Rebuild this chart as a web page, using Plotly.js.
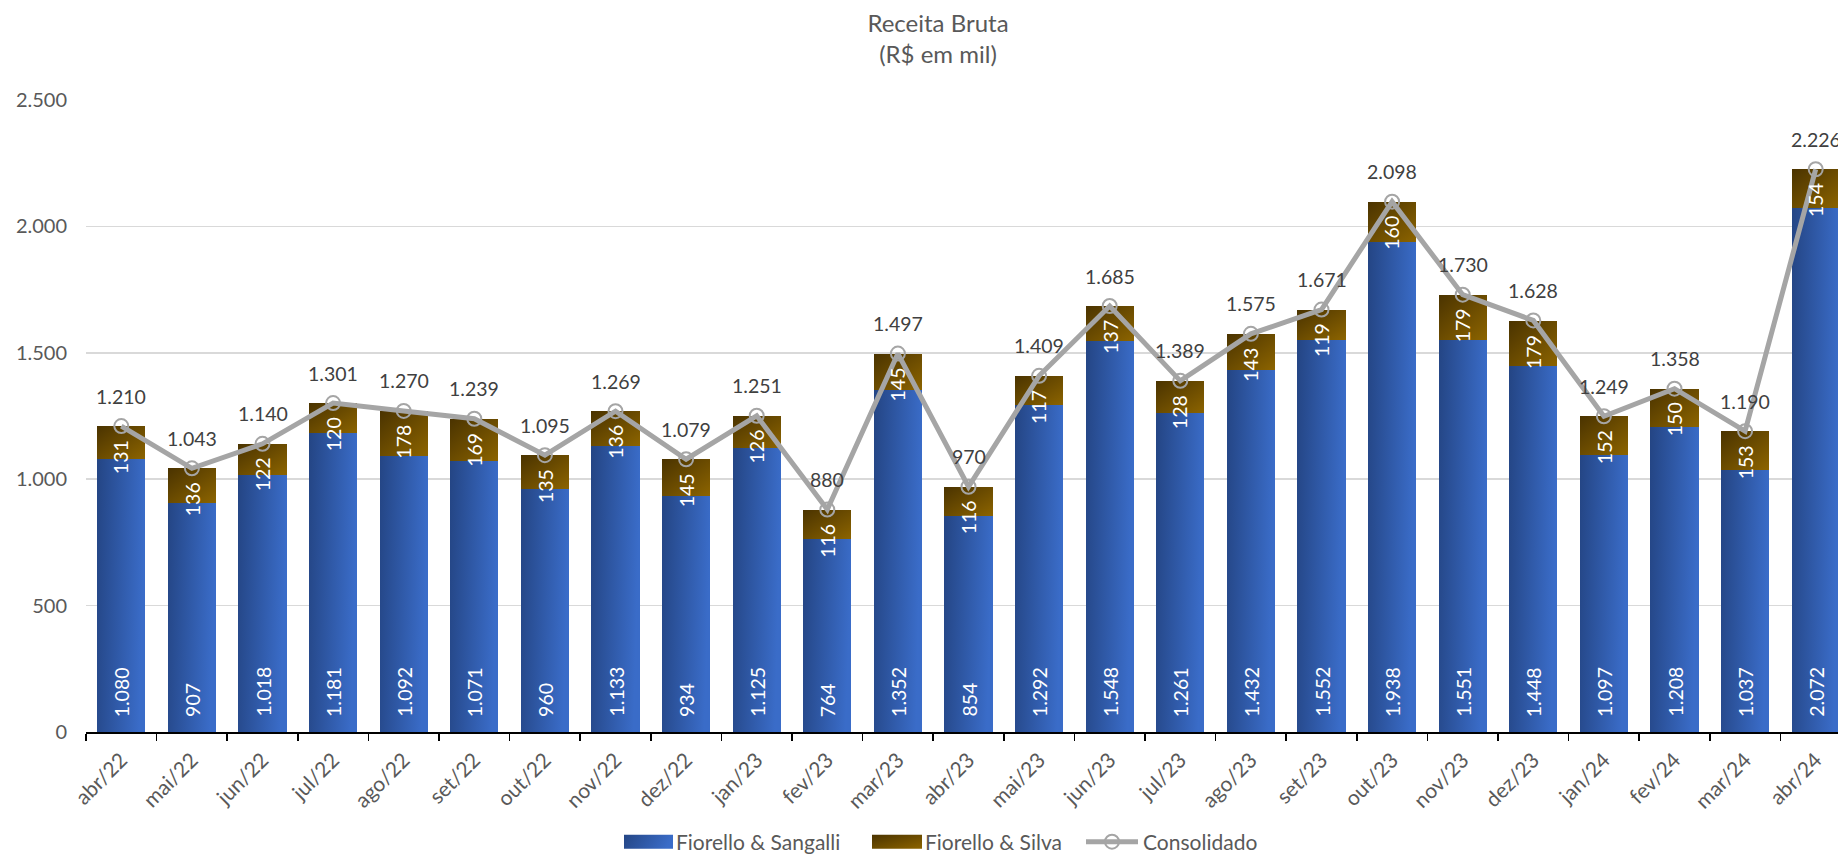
<!DOCTYPE html>
<html>
<head>
<meta charset="utf-8">
<script src="https://cdn.plot.ly/plotly-3.0.1.min.js"></script>
<style>
  html, body { margin: 0; padding: 0; overflow: hidden; background: #fff; }
  #chart { width: 1860px; height: 856px; }
</style>
</head>
<body>
<div id="chart"></div>
<script>
const categories = ["abr/22","mai/22","jun/22","jul/22","ago/22","set/22","out/22","nov/22","dez/22",
  "jan/23","fev/23","mar/23","abr/23","mai/23","jun/23","jul/23","ago/23","set/23","out/23","nov/23","dez/23",
  "jan/24","fev/24","mar/24","abr/24"];
const sangalli = [1080, 907, 1018, 1181, 1092, 1071, 960, 1133, 934, 1125, 764, 1352, 854, 1292, 1548, 1261, 1432, 1552, 1938, 1551, 1448, 1097, 1208, 1037, 2072];
const silva = [131, 136, 122, 120, 178, 169, 135, 136, 145, 126, 116, 145, 116, 117, 137, 128, 143, 119, 160, 179, 179, 152, 150, 153, 154];
const consolidado = [1210, 1043, 1140, 1301, 1270, 1239, 1095, 1269, 1079, 1251, 880, 1497, 970, 1409, 1685, 1389, 1575, 1671, 2098, 1730, 1628, 1249, 1358, 1190, 2226];
const yTicks = [0, 500, 1000, 1500, 2000, 2500];

function fmt(v) { return String(v).replace(/\B(?=(\d{3})+(?!\d))/g, "."); }

const FONT = "Lato, 'Open Sans', sans-serif";
const NUM = 19.5;

const traces = [
  { type: "bar", name: "Fiorello & Sangalli", x: categories, y: sangalli,
    marker: { color: "#2F5AAE" }, hoverinfo: "skip", legendwidth: 192 },
  { type: "bar", name: "Fiorello & Silva", x: categories, y: silva,
    marker: { color: "#6B4C00" }, hoverinfo: "skip", legendwidth: 161 },
  { type: "scatter", mode: "lines+markers", name: "Consolidado", x: categories, y: consolidado,
    line: { color: "#A5A5A5", width: 5 },
    marker: { symbol: "circle-open", size: 14, color: "#A5A5A5", line: { width: 2 } },
    hoverinfo: "skip", cliponaxis: false }
];

const annotations = [];
categories.forEach((c, i) => {
  annotations.push({ x: c, y: consolidado[i], text: fmt(consolidado[i]), showarrow: false,
    yshift: 30, font: { family: FONT, size: NUM, color: "#404040" } });
  annotations.push({ x: c, y: 0, text: fmt(sangalli[i]), showarrow: false, textangle: -90,
    yanchor: "bottom", yshift: 13, font: { family: FONT, size: NUM, color: "#FFFFFF" } });
  annotations.push({ x: c, y: sangalli[i] + silva[i], text: fmt(silva[i]), showarrow: false, textangle: -90,
    yanchor: "top", yshift: -12, font: { family: FONT, size: NUM, color: "#FFFFFF" } });
});

const layout = {
  width: 1860, height: 856,
  margin: { l: 86, r: 9, t: 100, b: 124 },
  paper_bgcolor: "#fff", plot_bgcolor: "#fff",
  separators: ",.",
  font: { family: FONT, size: 19, color: "#595959" },
  title: { text: "Receita Bruta<br>(R$ em mil)", x: 938 / 1860, xanchor: "center", xref: "container",
    y: 1 - 32 / 856, yanchor: "top", yref: "container",
    font: { family: FONT, size: 24, color: "#595959" } },
  barmode: "stack", bargap: 0.316,
  xaxis: { type: "category", range: [-0.5, categories.length - 0.5], autorange: false,
    showline: true, linecolor: "#000", linewidth: 1.5,
    ticks: "outside", tickson: "boundaries", ticklen: 7, tickwidth: 1.5, tickcolor: "#000",
    tickangle: -45, tickfont: { family: FONT, size: 21, color: "#595959" }, showgrid: false,
    ticklabelstandoff: 6, fixedrange: true, automargin: false },
  yaxis: { range: [0, 2500], autorange: false, tickvals: yTicks, ticktext: yTicks.map(fmt), showline: false, zeroline: false,
    gridcolor: "#D9D9D9", gridwidth: 1.5, ticks: "", ticklabelstandoff: 18,
    tickfont: { family: FONT, size: 20, color: "#595959" }, fixedrange: true, automargin: false },
  showlegend: true,
  legend: { orientation: "h", xref: "container", x: 624 / 1860, xanchor: "left",
    yref: "container", y: 1 - 842 / 856, yanchor: "middle",
    font: { family: FONT, size: 21, color: "#595959" }, itemwidth: 42, traceorder: "normal" },
  annotations: annotations
};

Plotly.newPlot("chart", traces, layout, { displayModeBar: false, responsive: false, staticPlot: true }).then(gd => {
  const NS = "http://www.w3.org/2000/svg";
  const svg = gd.querySelector(".main-svg");
  let defs = svg.querySelector("defs");
  if (!defs) { defs = document.createElementNS(NS, "defs"); svg.insertBefore(defs, svg.firstChild); }
  function grad(id, x2, y2, stops) {
    const g = document.createElementNS(NS, "linearGradient");
    g.setAttribute("id", id);
    g.setAttribute("x1", "0"); g.setAttribute("y1", "0");
    g.setAttribute("x2", x2); g.setAttribute("y2", y2);
    stops.forEach(([o, c]) => {
      const s = document.createElementNS(NS, "stop");
      s.setAttribute("offset", o); s.setAttribute("stop-color", c);
      g.appendChild(s);
    });
    defs.appendChild(g);
  }
  grad("gBlue", "1", "0.15", [["0", "#244584"], ["1", "#3A6CC8"]]);
  grad("gGold", "1", "1", [["0", "#4A3300"], ["1", "#8C6400"]]);
  const barTraces = gd.querySelectorAll(".barlayer .trace");
  const ids = ["gBlue", "gGold"];
  barTraces.forEach((t, i) => {
    t.querySelectorAll("path").forEach(p => { p.style.fill = "url(#" + ids[i] + ")"; });
  });
  const legItems = gd.querySelectorAll(".legend .traces");
  legItems.forEach((t, i) => {
    if (i < 2) {
      t.querySelectorAll(".legendpoints path").forEach(p => {
        p.setAttribute("d", "M-27,7H23V-7H-27Z");
        p.style.fill = "url(#" + ids[i] + ")";
        p.style.stroke = "none";
      });
    } else {
      const lp = t.querySelector(".legendlines path");
      if (lp) {
        const m = /M([-\d.]+),([-\d.]+)h([-\d.]+)/.exec(lp.getAttribute("d") || "");
        if (m) {
          const a = +m[1], b = +m[2], c = +m[3];
          lp.setAttribute("d", "M" + (a - 10) + "," + b + "h" + (c + 10));
          t.querySelectorAll(".legendpoints path").forEach(p => {
            const tr = p.getAttribute("transform") || "";
            const mm = /translate\(([-\d.]+),\s*([-\d.]+)\)/.exec(tr);
            if (mm) p.setAttribute("transform", "translate(" + (+mm[1] - 5) + "," + mm[2] + ")");
          });
        }
      }
    }
  });
});
</script>
</body>
</html>
